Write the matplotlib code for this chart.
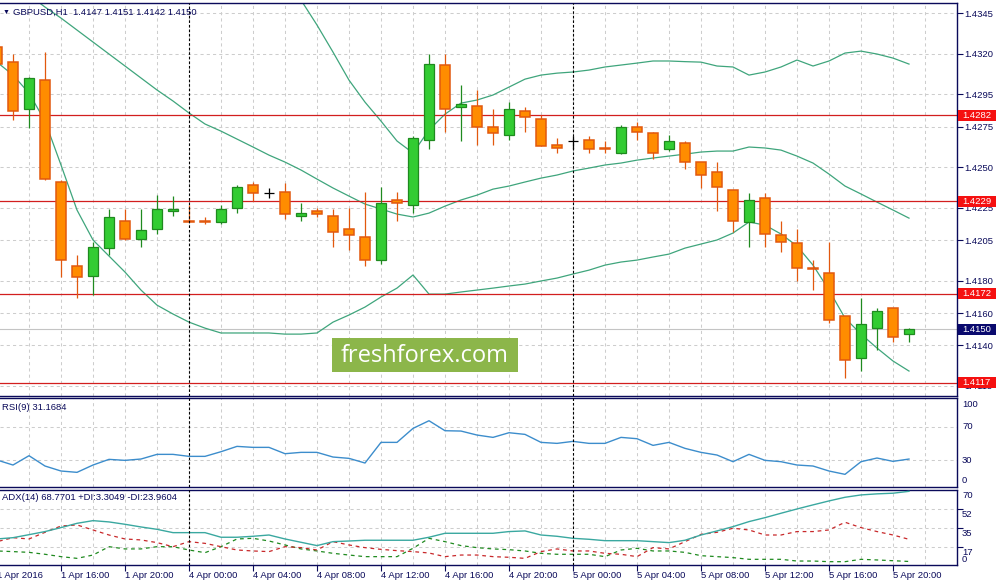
import numpy as np
import matplotlib
matplotlib.use("Agg")
import matplotlib.pyplot as plt
from matplotlib.patches import Rectangle
from matplotlib.transforms import IdentityTransform, blended_transform_factory

plt.rcParams['font.family'] = ['Liberation Sans', 'DejaVu Sans']

W, H, DPI = 999, 585, 100

# ---------------- data (GBPUSD H1, 1 Apr 12:00 .. 5 Apr 21:00) ----------------
open_ = [1.4324, 1.4315, 1.4286, 1.4304, 1.4241, 1.4189, 1.4183, 1.4200, 1.4217, 1.4206,
         1.4212, 1.4223, 1.4217, 1.4217, 1.4216, 1.4225, 1.4239, 1.4234, 1.4235, 1.4220,
         1.4223, 1.4220, 1.4212, 1.4207, 1.4193, 1.4230, 1.4227, 1.4267, 1.4313, 1.4287,
         1.4288, 1.4275, 1.4270, 1.4285, 1.4280, 1.4264, 1.4266, 1.4267, 1.4262, 1.4259,
         1.4275, 1.4271, 1.4261, 1.4265, 1.4253, 1.4247, 1.4236, 1.4216, 1.4231, 1.4208,
         1.4203, 1.4188, 1.4185, 1.4158, 1.4132, 1.4151, 1.4163, 1.4147]
high = [1.4327, 1.4320, 1.4306, 1.4321, 1.4242, 1.4196, 1.4204, 1.4224, 1.4224, 1.4224,
        1.4233, 1.4232, 1.4227, 1.4219, 1.4227, 1.4239, 1.4241, 1.4237, 1.4240, 1.4228,
        1.4225, 1.4224, 1.4225, 1.4235, 1.4238, 1.4235, 1.4269, 1.4320, 1.4320, 1.4301,
        1.4298, 1.4286, 1.4290, 1.4287, 1.4282, 1.4268, 1.4269, 1.4269, 1.4266, 1.4276,
        1.4278, 1.4272, 1.4270, 1.4266, 1.4253, 1.4253, 1.4236, 1.4234, 1.4234, 1.4217,
        1.4212, 1.4193, 1.4204, 1.4158, 1.4169, 1.4163, 1.4163, 1.4151]
low = [1.4310, 1.4279, 1.4274, 1.4242, 1.4182, 1.4169, 1.4171, 1.4196, 1.4205, 1.4201,
       1.4209, 1.4220, 1.4216, 1.4215, 1.4215, 1.4222, 1.4229, 1.4231, 1.4218, 1.4217,
       1.4219, 1.4201, 1.4199, 1.4189, 1.4190, 1.4217, 1.4222, 1.4261, 1.4272, 1.4266,
       1.4264, 1.4264, 1.4267, 1.4272, 1.4263, 1.4259, 1.4261, 1.4259, 1.4259, 1.4258,
       1.4267, 1.4255, 1.4260, 1.4249, 1.4237, 1.4223, 1.4210, 1.4201, 1.4201, 1.4198,
       1.4180, 1.4174, 1.4154, 1.4120, 1.4124, 1.4137, 1.4142, 1.4142]
close_ = [1.4314, 1.4285, 1.4305, 1.4243, 1.4193, 1.4182, 1.4201, 1.4219, 1.4206, 1.4211,
          1.4224, 1.4224, 1.4216, 1.4216, 1.4224, 1.4238, 1.4234, 1.4234, 1.4221, 1.4222,
          1.4221, 1.4210, 1.4208, 1.4193, 1.4228, 1.4228, 1.4268, 1.4314, 1.4286, 1.4289,
          1.4275, 1.4271, 1.4286, 1.4281, 1.4263, 1.4262, 1.4266, 1.4261, 1.4261, 1.4275,
          1.4272, 1.4259, 1.4266, 1.4253, 1.4245, 1.4238, 1.4217, 1.4230, 1.4209, 1.4204,
          1.4188, 1.4187, 1.4156, 1.4131, 1.4153, 1.4161, 1.4145, 1.4150]

nan = float('nan')
bb_upper = [nan] * 18 + [
    1.43693, 1.43532, 1.43378, 1.43211, 1.43038, 1.42902, 1.42785, 1.42662, 1.42588, 1.42730,
    1.42828, 1.42896, 1.42915, 1.42946, 1.42995, 1.43044, 1.43069, 1.43081, 1.43088, 1.43100,
    1.43119, 1.43131, 1.43143, 1.43156, 1.43156, 1.43152, 1.43149, 1.43125, 1.43119, 1.43069,
    1.43088, 1.43119, 1.43162, 1.43125, 1.43156, 1.43205, 1.43217, 1.43199, 1.43174, 1.43137]
bb_middle = [1.43711, 1.43637, 1.43563, 1.43489, 1.43421, 1.43347, 1.43273, 1.43199, 1.43125, 1.43051,
             1.42977, 1.42909, 1.42835, 1.42767, 1.42723, 1.42674, 1.42625, 1.42575, 1.42532, 1.42483,
             1.42427, 1.42372, 1.42322, 1.42273, 1.42242, 1.42211, 1.42193, 1.42217, 1.42260, 1.42298,
             1.42328, 1.42365, 1.42384, 1.42409, 1.42433, 1.42452, 1.42477, 1.42495, 1.42514, 1.42526,
             1.42544, 1.42557, 1.42569, 1.42581, 1.42594, 1.42600, 1.42600, 1.42625, 1.42619, 1.42606,
             1.42569, 1.42526, 1.42458, 1.42384, 1.42335, 1.42285, 1.42236, 1.42186]
bb_lower = [1.43149, 1.43069, 1.42958, 1.42785, 1.42514, 1.42236, 1.42051, 1.41952, 1.41853, 1.41742,
            1.41649, 1.41594, 1.41544, 1.41507, 1.41477, 1.41477, 1.41477, 1.41477, 1.41470, 1.41470,
            1.41477, 1.41544, 1.41588, 1.41637, 1.41699, 1.41754, 1.41835, 1.41717, 1.41717, 1.41730,
            1.41742, 1.41754, 1.41767, 1.41779, 1.41798, 1.41816, 1.41841, 1.41865, 1.41896, 1.41915,
            1.41927, 1.41946, 1.41964, 1.42001, 1.42026, 1.42051, 1.42094, 1.42162, 1.42143, 1.42088,
            1.42014, 1.41896, 1.41742, 1.41569, 1.41470, 1.41384, 1.41304, 1.41242]

rsi = [30.0, 24.0, 35.2, 22.8, 16.8, 15.2, 24.0, 30.8, 29.6, 31.2,
       36.8, 36.8, 34.4, 34.4, 40.0, 46.4, 45.2, 45.2, 37.6, 39.2,
       39.2, 33.6, 32.0, 26.4, 51.2, 51.2, 68.0, 77.2, 65.2, 64.8,
       60.0, 57.2, 62.8, 60.8, 51.2, 50.0, 52.4, 50.0, 50.0, 57.2,
       55.6, 47.6, 51.2, 44.0, 39.2, 36.0, 28.0, 36.8, 29.6, 28.0,
       24.0, 22.8, 16.8, 12.8, 28.0, 32.4, 28.4, 31.1684]
adx = [24.3, 25.5, 28.3, 31.2, 34.9, 38.9, 41.4, 40.2, 38.0, 35.5,
       33.3, 30.2, 30.2, 30.2, 25.9, 25.9, 26.8, 28.0, 24.3, 21.2,
       18.1, 21.8, 22.4, 23.1, 23.1, 23.1, 23.1, 25.9, 29.6, 29.6,
       29.6, 29.6, 31.2, 31.8, 28.0, 26.8, 24.9, 24.0, 22.7, 22.7,
       22.7, 21.8, 20.9, 23.1, 28.0, 31.8, 35.8, 40.5, 44.2, 48.3,
       52.3, 56.1, 59.8, 63.2, 65.4, 66.4, 67.0, 68.7701]
plus_di = [13.1, 12.5, 11.8, 10.0, 7.8, 6.2, 9.3, 17.1, 15.0, 15.0,
           17.1, 17.1, 14.0, 11.5, 17.1, 24.3, 24.9, 22.4, 18.7, 15.0,
           13.1, 10.9, 9.3, 7.8, 7.8, 7.8, 15.6, 24.9, 21.8, 18.1,
           16.2, 15.0, 14.3, 13.1, 10.9, 10.0, 10.0, 10.0, 7.8, 14.0,
           15.6, 13.1, 13.1, 11.8, 8.7, 7.8, 6.9, 5.3, 5.3, 5.3,
           3.7, 3.7, 3.1, 3.1, 5.3, 4.7, 4.0, 3.3049]
minus_di = [21.8, 25.5, 24.3, 30.5, 36.4, 37.4, 32.7, 28.0, 24.3, 23.4,
            20.9, 17.1, 21.8, 20.2, 17.1, 14.0, 13.1, 12.5, 17.1, 16.2,
            14.0, 21.8, 18.7, 16.2, 14.6, 13.4, 12.5, 11.2, 7.8, 9.3,
            9.3, 7.8, 7.2, 6.2, 12.5, 15.0, 13.1, 13.1, 10.9, 10.0,
            7.8, 16.2, 15.0, 21.8, 28.6, 30.5, 34.3, 32.7, 28.0, 28.0,
            31.2, 31.2, 32.7, 39.9, 34.9, 31.2, 28.0, 23.9604]

levels = [1.4282, 1.4229, 1.4172, 1.4117]
price_ticks = [1.4345, 1.4320, 1.4295, 1.4275, 1.4250, 1.4225, 1.4205,
               1.4180, 1.4160, 1.4140, 1.4115]
price_range = (1.41088, 1.43514)
rsi_ticks = [100, 70, 30, 0]
rsi_grid = [70, 30]
rsi_range = (-2.4, 104.5)
adx_ticks = [70, 52, 35, 17, 0]
adx_grid = [52, 35, 17]
adx_range = (0, 70)
time_ticks = list(range(0, 58, 4))
time_labels = ['1 Apr 2016', '1 Apr 16:00', '1 Apr 20:00', '4 Apr 00:00', '4 Apr 04:00',
               '4 Apr 08:00', '4 Apr 12:00', '4 Apr 16:00', '4 Apr 20:00', '5 Apr 00:00',
               '5 Apr 04:00', '5 Apr 08:00', '5 Apr 12:00', '5 Apr 16:00', '5 Apr 20:00']

# ---------------- style ----------------
NAVY = '#0A0A5A'
GRID = '#CDCDCD'
BULL_FILL, BULL_EDGE = '#33CC33', '#1F8A1F'
BEAR_FILL, BEAR_EDGE = '#FF8C00', '#E2580E'
BAND = '#3FA57C'
LEVEL = '#D21E1E'
FS = 6.8

fig = plt.figure(figsize=(W / DPI, H / DPI), dpi=DPI)
fig.patch.set_facecolor('white')


def px_axes(x0, y0, x1, y1):
    return fig.add_axes([x0 / W, 1 - y1 / H, (x1 - x0) / W, (y1 - y0) / H])


ax = px_axes(0, 3, 957, 396)
ax_r = px_axes(0, 398, 957, 487)
ax_a = px_axes(0, 490, 957, 565)

n = len(close_)
idx = np.arange(n)
o, h, l, c = map(np.array, (open_, high, low, close_))
xlim = (3 / 16, 60)
day_starts = [t for t, lab in zip(time_ticks, time_labels) if lab.endswith('00:00')]

for a in (ax, ax_r, ax_a):
    a.set_xlim(*xlim)
    a.set_facecolor('white')
    for s in ('top', 'right', 'bottom'):
        a.spines[s].set_color(NAVY)
        a.spines[s].set_linewidth(1.0)
    a.spines['left'].set_visible(False)
    a.tick_params(left=False, labelleft=False, bottom=False, labelbottom=False)
    for g in range(2, 60, 2):
        a.axvline(g, color=GRID, lw=0.75, ls=(0, (3, 3)), zorder=0)
    for d in day_starts:
        a.axvline(d, color='black', lw=0.8, ls=(0, (2.3, 1.8)), zorder=6)

# ---------------- main price panel ----------------
ax.set_ylim(*price_range)
for p in price_ticks:
    ax.axhline(p, color=GRID, lw=0.75, ls=(0, (3, 3)), zorder=0)
ax.axhline(close_[-1], color='#C4C4C4', lw=0.8, zorder=0.5)
for p in levels:
    ax.axhline(p, color=LEVEL, lw=0.9, zorder=1.5)

ax.plot(idx, bb_upper, color=BAND, lw=0.9, zorder=1)
ax.plot(idx, bb_middle, color=BAND, lw=0.9, zorder=1)
ax.plot(idx, bb_lower, color=BAND, lw=0.9, zorder=1)

bull = c > o
bear = c < o
doji = c == o
bw = 0.62
ax.vlines(idx[bull], l[bull], h[bull], color=BULL_EDGE, lw=0.9, zorder=2)
ax.bar(idx[bull], (c - o)[bull], bottom=o[bull], width=bw, color=BULL_FILL,
       edgecolor=BULL_EDGE, linewidth=0.9, zorder=3)
ax.vlines(idx[bear], l[bear], h[bear], color=BEAR_EDGE, lw=0.9, zorder=2)
ax.bar(idx[bear], (o - c)[bear], bottom=c[bear], width=bw, color=BEAR_FILL,
       edgecolor=BEAR_EDGE, linewidth=1.1, zorder=3)
ax.vlines(idx[doji], l[doji], h[doji], color='black', lw=0.9, zorder=3)
ax.hlines(c[doji], idx[doji] - bw / 2, idx[doji] + bw / 2, color='black', lw=0.9, zorder=3)

ax.set_yticks(price_ticks)
ax.set_yticklabels([f'{p:.4f}' for p in price_ticks])
ax.tick_params(axis='y', left=False, labelleft=False, right=True, labelright=True,
               direction='out', length=4, width=0.8, color=NAVY,
               labelsize=FS, labelcolor=NAVY, pad=1.5)


def price_box(price, color):
    y = ax.transData.transform((xlim[1], price))[1]
    fig.add_artist(Rectangle((958, y - 5.5), 38, 11, transform=IdentityTransform(),
                             facecolor=color, edgecolor='none', zorder=5))
    fig.text(962 / W, y / H, f'{price:.4f}', color='white', fontsize=FS,
             ha='left', va='center', zorder=6)


for p in levels:
    price_box(p, '#F51010')
price_box(close_[-1], '#0A0A6E')

# ---------------- RSI panel ----------------
ax_r.set_ylim(*rsi_range)
for v in rsi_grid:
    ax_r.axhline(v, color=GRID, lw=0.75, ls=(0, (3, 3)), zorder=0)
ax_r.plot(idx, rsi, color='#3C8DCC', lw=1.0, zorder=2)
tr_r = blended_transform_factory(ax_r.transAxes, ax_r.transData)
for v in rsi_ticks:
    if v == max(rsi_ticks):
        ax_r.annotate(str(v), xy=(1, 1), xycoords='axes fraction', xytext=(5, -2),
                      textcoords='offset pixels', fontsize=FS, color=NAVY, va='top')
    elif v == min(rsi_ticks):
        ax_r.annotate(str(v), xy=(1, 0), xycoords='axes fraction', xytext=(5, 2),
                      textcoords='offset pixels', fontsize=FS, color=NAVY, va='bottom')
    else:
        ax_r.annotate(str(v), xy=(1, v), xycoords=tr_r, xytext=(5, 0),
                      textcoords='offset pixels', fontsize=FS, color=NAVY, va='center')

# ---------------- ADX panel ----------------
ax_a.set_ylim(*adx_range)
for v in adx_grid:
    ax_a.axhline(v, color=GRID, lw=0.75, ls=(0, (3, 3)), zorder=0)
ax_a.plot(idx, adx, color='#3AA8A0', lw=1.0, zorder=3)
ax_a.plot(idx, plus_di, color='#1F8A1F', lw=0.9, ls=(0, (3, 3)), zorder=2)
ax_a.plot(idx, minus_di, color='#C8282A', lw=0.9, ls=(0, (3, 3)), zorder=2)
ax_a.set_yticks(adx_grid)
ax_a.tick_params(axis='y', left=False, labelleft=False, right=True, labelright=False,
                 direction='out', length=4, width=0.8, color=NAVY)
tr_a = blended_transform_factory(ax_a.transAxes, ax_a.transData)
for v in adx_ticks:
    if v == min(adx_ticks):
        ax_a.annotate(str(v), xy=(1, 0), xycoords='axes fraction', xytext=(5, 1),
                      textcoords='offset pixels', fontsize=FS, color=NAVY, va='bottom')
    else:
        ax_a.annotate(str(v), xy=(1, v), xycoords=tr_a, xytext=(5, -1),
                      textcoords='offset pixels', fontsize=FS, color=NAVY, va='top')

ax_a.set_xticks([t for t in time_ticks if xlim[0] <= t <= xlim[1]])
ax_a.tick_params(axis='x', bottom=True, direction='out', length=4, width=0.8, color=NAVY,
                 labelbottom=False)
tr_t = blended_transform_factory(ax_a.transData, ax_a.transAxes)
for t, lab in zip(time_ticks, time_labels):
    ax_a.annotate(lab, xy=(t, 0), xycoords=tr_t, xytext=(0, -10),
                  textcoords='offset pixels', fontsize=FS, color=NAVY,
                  ha='left', va='center', annotation_clip=False)

# ---------------- titles ----------------
fig.text(3 / W, 1 - 12 / H, '▼', fontsize=5, color=NAVY, va='center')
fig.text(13 / W, 1 - 12 / H,
         f'GBPUSD,H1  {open_[-1]:.4f} {high[-1]:.4f} {low[-1]:.4f} {close_[-1]:.4f}',
         fontsize=FS, color=NAVY, va='center')
fig.text(2 / W, 1 - 408 / H, f'RSI(9) {rsi[-1]:.4f}', fontsize=FS, color=NAVY, va='center')
fig.text(2 / W, 1 - 498 / H,
         f'ADX(14) {adx[-1]:.4f} +DI:{plus_di[-1]:.4f} -DI:{minus_di[-1]:.4f}',
         fontsize=FS, color=NAVY, va='center')

# ---------------- watermark ----------------
fig.add_artist(Rectangle((332 / W, 1 - 372 / H), 186 / W, 34 / H, transform=fig.transFigure,
                         facecolor='#8CB64A', edgecolor='none', zorder=7))
fig.text(425 / W, 1 - 356 / H, 'freshforex.com', fontsize=17, color='white',
         family=['Open Sans', 'DejaVu Sans'], ha='center', va='center', zorder=8)

fig.savefig('out.png', dpi=DPI, facecolor='white')
